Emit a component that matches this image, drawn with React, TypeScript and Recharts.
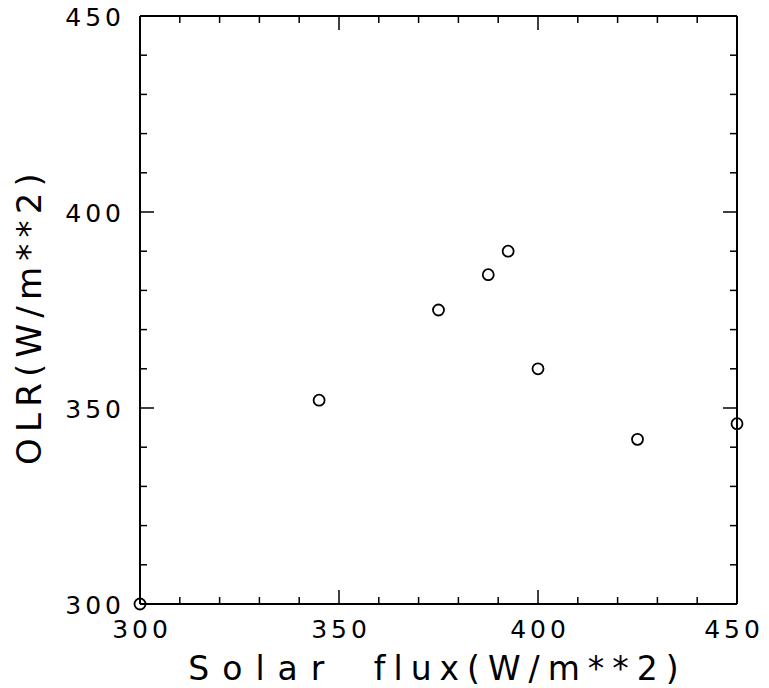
import React from 'react';
import { ScatterChart, Scatter, XAxis, YAxis } from 'recharts';

const solarFlux = [300, 345, 375, 387.5, 392.5, 400, 425, 450];
const olr = [300, 352, 375, 384, 390, 360, 342, 346];
const tickValues = [300, 310, 320, 330, 340, 350, 360, 370, 380, 390, 400, 410, 420, 430, 440, 450];
const xLabelWords = ['Solar', 'flux(W/m**2)'];
const yLabel = 'OLR(W/m**2)';

const points = solarFlux.map((x, i) => ({ x, y: olr[i] }));
const topTickPoints = tickValues.map((x) => ({ x, y: 450 }));

const FONT = '"DejaVu Sans", sans-serif';
const MAJOR = 14;
const MINOR = 7;
const isMajor = (v: number) => v % 50 === 0;

const BottomTick = (props: any) => {
  const { x, y, payload, index } = props;
  const v = payload.value;
  const m = isMajor(v);
  const len = m ? MAJOR : MINOR;
  const last = index === tickValues.length - 1;
  return (
    <g>
      <line x1={x} y1={y} x2={x} y2={y - len} stroke="#000" strokeWidth={1.5} />
      {m && (
        <text x={x + (last ? -3 : 2)} y={y + 34} textAnchor="middle" fontFamily={FONT} fontSize={25} letterSpacing={4} fill="#000">
          {v}
        </text>
      )}
    </g>
  );
};

const LeftTick = (props: any) => {
  const { x, y, payload } = props;
  const v = payload.value;
  const m = isMajor(v);
  return (
    <g>
      <line x1={x} y1={y} x2={x + (m ? MAJOR : MINOR)} y2={y} stroke="#000" strokeWidth={1.5} />
      {m && (
        <text x={x - 15} y={y + 10} textAnchor="end" fontFamily={FONT} fontSize={25} letterSpacing={4} fill="#000">
          {v}
        </text>
      )}
    </g>
  );
};

const RightTick = (props: any) => {
  const { x, y, payload } = props;
  const m = isMajor(payload.value);
  return <line x1={x} y1={y} x2={x - (m ? MAJOR : MINOR)} y2={y} stroke="#000" strokeWidth={1.5} />;
};

const TopTickShape = (props: any) => {
  const { cx, cy, payload } = props;
  const v = payload && payload.x;
  const len = isMajor(v) ? MAJOR : MINOR;
  return <line x1={cx} y1={cy} x2={cx} y2={cy + len} stroke="#000" strokeWidth={1.5} />;
};

const XLabelContent = (props: any) => {
  const vb = props.viewBox || {};
  const cx = vb.x + vb.width / 2;
  return (
    <text
      x={cx - 1}
      y={vb.y + 76}
      textAnchor="middle"
      fontFamily={FONT}
      fontSize={33}
      letterSpacing={8}
      wordSpacing={18}
      fill="#000"
    >
      <tspan letterSpacing={13}>{xLabelWords[0]}</tspan>
      <tspan>{' ' + xLabelWords[1]}</tspan>
    </text>
  );
};

const YLabelContent = () => {
  const x = 40.5;
  const y = 316;
  return (
    <text
      x={x}
      y={y}
      transform={`rotate(-90 ${x} ${y})`}
      textAnchor="middle"
      fontFamily={FONT}
      fontSize={34}
      letterSpacing={6.2}
      fill="#000"
    >
      {yLabel}
    </text>
  );
};

const Circle = (props: any) => {
  const { cx, cy } = props;
  return <circle cx={cx} cy={cy} r={5.5} fill="none" stroke="#000" strokeWidth={1.8} />;
};

export default function App() {
  const axisLine = { stroke: '#000', strokeWidth: 2 };
  return (
    <div style={{ position: 'absolute', left: 0, top: 0, width: 769, height: 688, background: '#fff' }}>
      <ScatterChart width={769} height={688} margin={{ top: 15, right: 31, bottom: 0, left: 0 }}>
        <XAxis
          xAxisId="b"
          type="number"
          dataKey="x"
          domain={[300, 450]}
          ticks={tickValues}
          interval={0}
          orientation="bottom"
          height={84}
          tickSize={0}
          tickMargin={0}
          tickLine={false}
          axisLine={axisLine}
          tick={BottomTick}
          label={{ content: XLabelContent }}
        />
        <XAxis
          xAxisId="t"
          type="number"
          dataKey="x"
          domain={[300, 450]}
          ticks={tickValues}
          interval={0}
          orientation="top"
          height={1}
          tickSize={0}
          tickMargin={0}
          tickLine={false}
          axisLine={axisLine}
          tick={false}
        />
        <YAxis
          yAxisId="l"
          type="number"
          dataKey="y"
          domain={[300, 450]}
          ticks={tickValues}
          interval={0}
          orientation="left"
          width={140}
          tickSize={0}
          tickMargin={0}
          tickLine={false}
          axisLine={axisLine}
          tick={LeftTick}
          label={{ content: YLabelContent }}
        />
        <YAxis
          yAxisId="r"
          type="number"
          dataKey="y"
          domain={[300, 450]}
          ticks={tickValues}
          interval={0}
          orientation="right"
          width={1}
          tickSize={0}
          tickMargin={0}
          tickLine={false}
          axisLine={axisLine}
          tick={RightTick}
        />
        <Scatter data={topTickPoints} xAxisId="t" yAxisId="r" shape={TopTickShape} legendType="none" isAnimationActive={false} />
        <Scatter data={points} xAxisId="b" yAxisId="l" shape={Circle} isAnimationActive={false} />
      </ScatterChart>
    </div>
  );
}
